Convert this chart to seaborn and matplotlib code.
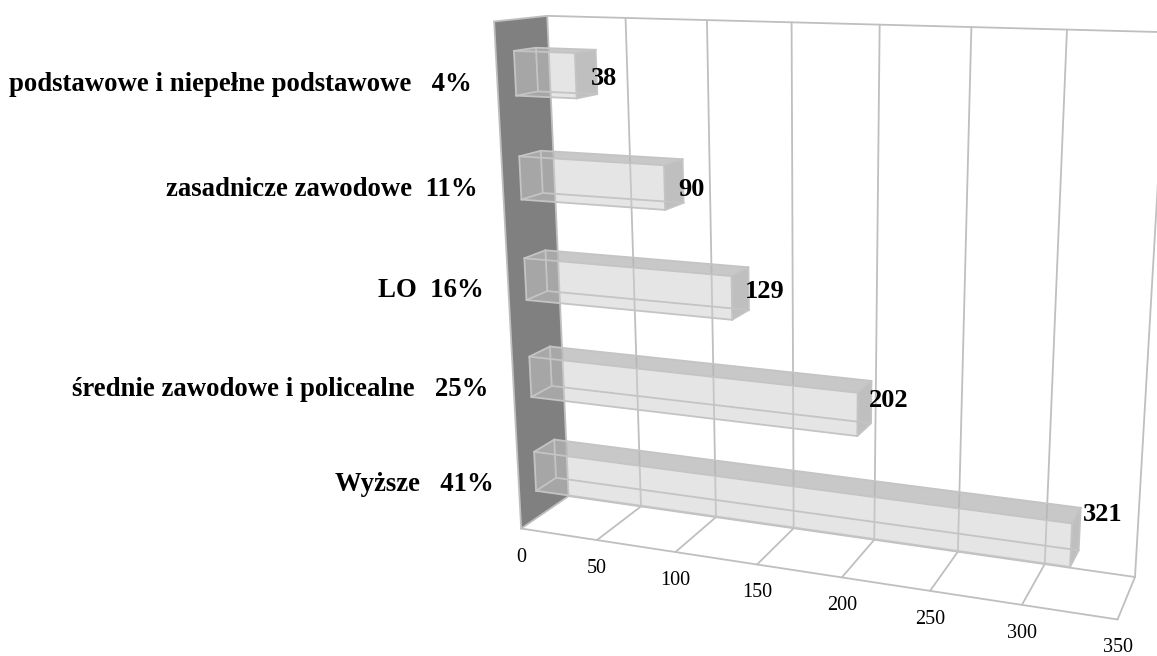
import numpy as np
import pandas as pd
import seaborn as sns
import matplotlib
matplotlib.use("Agg")
import matplotlib.pyplot as plt
from matplotlib.patches import Polygon
from matplotlib.lines import Line2D
from matplotlib.transforms import Transform, IdentityTransform

# ---- data ----
categories = ["podstawowe i niepełne podstawowe   4%", "zasadnicze zawodowe  11%", "LO  16%",
              "średnie zawodowe i policealne   25%", "Wyższe   41%"]
values = [38, 90, 129, 202, 321]
x_ticks = [0, 50, 100, 150, 200, 250, 300, 350]

W, H = 1157, 656
sns.set_theme(style="white")
plt.rcParams["font.family"] = ["Liberation Serif", "DejaVu Serif"]

# ---- camera calibration of the oblique 3D view: (value, category pos, depth) -> picture px ----
calib = [
    (0, 4.5, 0, 521, 528), (50, 4.5, 0, 598, 539), (100, 4.5, 0, 676, 552), (150, 4.5, 0, 758, 564),
    (250, 4.5, 0, 930, 592), (300, 4.5, 0, 1022, 605), (350, 4.5, 0, 1117, 620),
    (0, 4.5, 1, 568, 497), (50, 4.5, 1, 640, 507), (100, 4.5, 1, 716, 517), (150, 4.5, 1, 793, 527),
    (250, 4.5, 1, 958, 553), (300, 4.5, 1, 1045, 565), (350, 4.5, 1, 1135, 575),
    (0, -.5, 0, 492, 22), (0, -.5, 1, 549, 15), (50, -.5, 1, 626, 18), (100, -.5, 1, 707, 21),
    (250, -.5, 1, 971, 27), (300, -.5, 1, 1067, 29),
]
A = []
for v, p, z, u, w in calib:
    X = [v, p, z, 1]
    A.append(X + [0, 0, 0, 0] + [-u * c for c in X])
    A.append([0, 0, 0, 0] + X + [-w * c for c in X])
P = np.linalg.svd(np.array(A, float))[2][-1].reshape(3, 4)


def project(v, p, z):
    q = P @ np.array([v, p, z, 1.0])
    return q[0] / q[2], H - q[1] / q[2]


class Plane(Transform):
    """Seaborn's (value, category) plane placed at a given depth of the 3D view."""
    input_dims = output_dims = 2
    is_separable = False
    has_inverse = False

    def __init__(self, z):
        super().__init__()
        self.z = z

    def transform_non_affine(self, xy):
        xy = np.asarray(xy, float)
        return np.array([project(a, b, self.z) for a, b in xy]).reshape(-1, 2)


fig = plt.figure(figsize=(W / 100, H / 100), dpi=100, facecolor="white")
ax = fig.add_axes([0, 0, 1, 1])
ident = IdentityTransform()
GRID = "#bfbfbf"
LW = 1.3
Z0, Z1 = 0.33, 0.75
BAR = 0.42


def face(pts, color, alpha, z):
    ax.add_patch(Polygon([project(*q) for q in pts], closed=True, fc=color, ec="none",
                         alpha=alpha, transform=ident, zorder=z))


def seg(a, b, z=2, color=GRID, lw=LW):
    pa, pb = project(*a), project(*b)
    ax.add_line(Line2D([pa[0], pb[0]], [pa[1], pb[1]], color=color, lw=lw, transform=ident, zorder=z))


# seaborn draws the bars; their front faces are then moved into the view
df = pd.DataFrame({"cat": categories, "val": values})
sns.barplot(data=df, x="val", y="cat", order=categories, width=BAR, color="#cdcdcd",
            saturation=1, ax=ax, zorder=5)
ax.set_axis_off()
front = Plane(Z0)
for bar in ax.patches:
    bar.set_transform(front)
    bar.set_alpha(0.5)
    bar.set_edgecolor("none")
    bar.set_clip_on(False)

# wall, floor and grid
top, bot = -.5, 4.5
vmax = x_ticks[-1]
face([(0, top, 0), (0, top, 1), (0, bot, 1), (0, bot, 0)], "#808080", 1, 1)
seg((0, top, 0), (0, bot, 0)); seg((0, top, 0), (0, top, 1))
seg((0, top, 1), (vmax, top, 1))
seg((0, bot, 0), (vmax, bot, 0)); seg((0, bot, 1), (vmax, bot, 1))
for t in x_ticks:
    seg((t, top, 1), (t, bot, 1))
    seg((t, bot, 0), (t, bot, 1))
    x, y = project(t, bot, 0)
    ax.text(x, y - 28.5, str(t), transform=ident, ha="center", va="center", fontsize=14.5,
            color="black", clip_on=False)

# remaining faces and edges of every box
value_dx = [-6, -5, -4, -2, 3]
value_dy = [-6, -8, -3, 2, 15]
label_dy = [-8, -6, -4, -4, -3]
for i, v in enumerate(values):
    a, b = i - BAR / 2, i + BAR / 2
    face([(0, a, Z0), (v, a, Z0), (v, a, Z1), (0, a, Z1)], "#b6b6b6", 0.75, 4)
    face([(v, a, Z0), (v, a, Z1), (v, b, Z1), (v, b, Z0)], "#afafaf", 0.8, 4)
    edge = "#c4c4c4"
    for z in (Z0, Z1):
        seg((0, a, z), (v, a, z), 6, edge); seg((0, b, z), (v, b, z), 6, edge)
        seg((0, a, z), (0, b, z), 6, edge); seg((v, a, z), (v, b, z), 6, edge)
    for pos in (a, b):
        seg((0, pos, Z0), (0, pos, Z1), 6, edge); seg((v, pos, Z0), (v, pos, Z1), 6, edge)
    x, y = project(v, i, Z1)
    ax.text(x + value_dx[i], y + value_dy[i], str(v), transform=ident, ha="left", va="center",
            fontsize=19, fontweight="bold", color="black", zorder=8)
    x, y = project(0, i, 0)
    ax.text(x - 25, y + label_dy[i], categories[i], transform=ident, ha="right", va="center",
            fontsize=19.3, fontweight="bold", color="black", zorder=8)

fig.savefig("out.png", dpi=100)
